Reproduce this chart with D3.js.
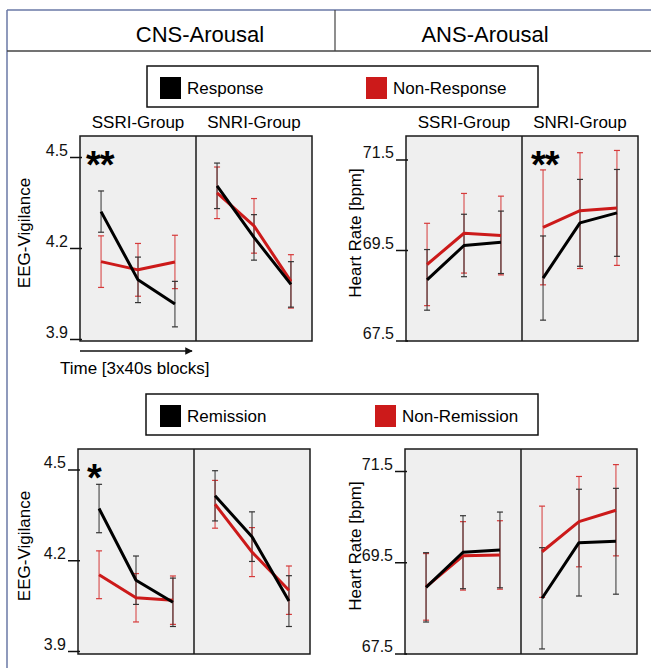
<!DOCTYPE html>
<html>
<head>
<meta charset="utf-8">
<script src="https://cdn.jsdelivr.net/npm/d3@7"></script>
<style>
  body { margin: 0; background: #fff; }
  svg { display: block; font-family: "Liberation Sans", Arial, sans-serif; }
</style>
</head>
<body>
<div id="chart"></div>
<script>
// values, SSRI blocks 1-3 then SNRI blocks 1-3
const groups = ["SSRI-Group", "SNRI-Group"];
const blocks = [1, 2, 3];
const eegTicks = [3.9, 4.2, 4.5];
const hrTicks = [67.5, 69.5, 71.5];

// top row: response vs non-response
const eegResponse = [4.32, 4.095, 4.015, 4.405, 4.235, 4.08];
const eegResponseErr = [0.068, 0.075, 0.075, 0.075, 0.075, 0.075];
const eegNonResponse = [4.155, 4.128, 4.154, 4.382, 4.273, 4.09];
const eegNonResponseErr = [0.085, 0.087, 0.088, 0.085, 0.09, 0.088];
const hrResponse = [68.84, 69.60, 69.67, 68.88, 70.10, 70.32];
const hrResponseErr = [0.67, 0.69, 0.69, 0.93, 0.96, 0.96];
const hrNonResponse = [69.18, 69.87, 69.82, 70.0, 70.37, 70.43];
const hrNonResponseErr = [0.91, 0.88, 0.87, 1.27, 1.28, 1.27];

// bottom row: remission vs non-remission
const eegRemission = [4.371, 4.134, 4.061, 4.413, 4.278, 4.065];
const eegRemissionErr = [0.08, 0.08, 0.08, 0.083, 0.082, 0.084];
const eegNonRemission = [4.152, 4.076, 4.068, 4.385, 4.227, 4.101];
const eegNonRemissionErr = [0.079, 0.08, 0.08, 0.079, 0.081, 0.08];
const hrRemission = [68.95, 69.72, 69.77, 68.71, 69.93, 69.96];
const hrRemissionErr = [0.76, 0.8, 0.83, 1.11, 1.17, 1.16];
const hrNonRemission = [68.96, 69.64, 69.66, 69.73, 70.39, 70.64];
const hrNonRemissionErr = [0.73, 0.75, 0.75, 1.0, 0.99, 1.0];

const width = 651, height = 668;
const black = "#000", red = "#cc1a1a";

const svg = d3.select("#chart").append("svg")
  .attr("width", width)
  .attr("height", height);

// outer frame + header
const frame = "#6a78a6";
svg.append("line").attr("x1", 7).attr("x2", 7).attr("y1", 10).attr("y2", height)
  .attr("stroke", frame).attr("stroke-width", 1.5);
svg.append("line").attr("x1", 7).attr("x2", width).attr("y1", 10).attr("y2", 10)
  .attr("stroke", frame).attr("stroke-width", 1.5);
svg.append("line").attr("x1", 7).attr("x2", width).attr("y1", 51).attr("y2", 51)
  .attr("stroke", "#444").attr("stroke-width", 1.5);
svg.append("line").attr("x1", 335).attr("x2", 335).attr("y1", 10).attr("y2", 51)
  .attr("stroke", "#444").attr("stroke-width", 1.2);
svg.append("text").attr("x", 200).attr("y", 42).attr("text-anchor", "middle")
  .attr("font-size", 22).text("CNS-Arousal");
svg.append("text").attr("x", 485).attr("y", 42).attr("text-anchor", "middle")
  .attr("font-size", 22).text("ANS-Arousal");

function legend(y, x0, labels, redX) {
  const g = svg.append("g");
  g.append("rect").attr("x", x0).attr("y", y).attr("width", 538 - x0).attr("height", 41)
    .attr("fill", "#fff").attr("stroke", "#111").attr("stroke-width", 1.5);
  g.append("rect").attr("x", 160).attr("y", y + 11).attr("width", 21).attr("height", 22).attr("fill", black);
  g.append("text").attr("x", 187).attr("y", y + 28).attr("font-size", 17).text(labels[0]);
  g.append("rect").attr("x", redX).attr("y", y + 11).attr("width", 21).attr("height", 22).attr("fill", red);
  g.append("text").attr("x", redX + 27).attr("y", y + 28).attr("font-size", 17).text(labels[1]);
}
legend(66, 147, ["Response", "Non-Response"], 366);
legend(394, 146, ["Remission", "Non-Remission"], 375);

function panel(opt) {
  const { x0, top, ticks, domain, yr, mean1, err1, mean2, err2, title, titleX, showGroups, star, starX } = opt;
  const w = 232, h = 205;
  const g = svg.append("g");

  const gx = d3.scaleBand().domain(groups).range([x0, x0 + w]);
  const tx = d3.scalePoint().domain(blocks).range([0, gx.bandwidth()]).padding(0.57);
  const y = d3.scaleLinear().domain(domain).range([top + yr[0], top + yr[1]]);
  const px = i => gx(groups[Math.floor(i / 3)]) + tx(blocks[i % 3]);

  g.append("rect").attr("x", x0).attr("y", top).attr("width", w).attr("height", h)
    .attr("fill", "#efefef").attr("stroke", "#1a1a1a").attr("stroke-width", 1.5);
  g.append("line").attr("x1", gx(groups[1])).attr("x2", gx(groups[1]))
    .attr("y1", top).attr("y2", top + h).attr("stroke", "#1a1a1a").attr("stroke-width", 1.5);

  const axis = g.append("g").attr("transform", `translate(${x0 + 2},0)`)
    .call(d3.axisLeft(y).tickValues(ticks).tickSize(12).tickPadding(2).tickFormat(d3.format(".1f")));
  axis.select(".domain").remove();
  axis.selectAll(".tick line").attr("stroke", "#111").attr("stroke-width", 1.5);
  axis.selectAll(".tick text").attr("dy", "-0.1em").attr("font-size", 16)
    .attr("font-family", "Liberation Sans, Arial, sans-serif").attr("fill", "#111");

  g.append("text")
    .attr("transform", `translate(${titleX},${top + 97}) rotate(-90)`)
    .attr("text-anchor", "middle").attr("font-size", 17).text(title);

  if (showGroups) {
    groups.forEach(gr => {
      g.append("text").attr("x", gx(gr) + gx.bandwidth() / 2).attr("y", top - 8)
        .attr("text-anchor", "middle").attr("font-size", 17).text(gr);
    });
  }

  const series = [
    { m: mean2, e: err2, c: red, ec: "#d63a3a" },
    { m: mean1, e: err1, c: black, ec: "#333" }
  ];
  series.forEach(s => {
    s.m.forEach((v, i) => {
      const x = px(i), y1 = y(v - s.e[i]), y2 = y(v + s.e[i]);
      g.append("line").attr("x1", x).attr("x2", x).attr("y1", y1).attr("y2", y2)
        .attr("stroke", s.ec).attr("stroke-width", 1);
      [y1, y2].forEach(yy => g.append("line").attr("x1", x - 3).attr("x2", x + 3)
        .attr("y1", yy).attr("y2", yy).attr("stroke", s.ec).attr("stroke-width", 1.2));
    });
  });
  const line = d3.line().x(d => px(d.i)).y(d => y(d.v));
  series.forEach(s => {
    [0, 3].forEach(start => {
      const pts = s.m.slice(start, start + 3).map((v, k) => ({ v, i: start + k }));
      g.append("path").datum(pts).attr("d", line).attr("fill", "none")
        .attr("stroke", s.c).attr("stroke-width", 3).attr("stroke-linejoin", "round");
    });
  });

  if (star) {
    g.append("text").attr("x", starX).attr("y", top + 42).attr("font-size", 38)
      .attr("font-weight", "bold").attr("letter-spacing", -1).text(star);
  }
}

panel({ x0: 80, top: 136, ticks: eegTicks, domain: [3.9, 4.5], yr: [203, 21],
  mean1: eegResponse, err1: eegResponseErr, mean2: eegNonResponse, err2: eegNonResponseErr,
  title: "EEG-Vigilance", titleX: 30, showGroups: true, star: "**", starX: 86 });
panel({ x0: 406, top: 136, ticks: hrTicks, domain: [67.5, 71.5], yr: [204.5, 23.5],
  mean1: hrResponse, err1: hrResponseErr, mean2: hrNonResponse, err2: hrNonResponseErr,
  title: "Heart Rate [bpm]", titleX: 361, showGroups: true, star: "**", starX: 531 });
panel({ x0: 78, top: 449, ticks: eegTicks, domain: [3.9, 4.5], yr: [202, 20.5],
  mean1: eegRemission, err1: eegRemissionErr, mean2: eegNonRemission, err2: eegNonRemissionErr,
  title: "EEG-Vigilance", titleX: 30, showGroups: false, star: "*", starX: 87 });
panel({ x0: 405, top: 449, ticks: hrTicks, domain: [67.5, 71.5], yr: [204.5, 22],
  mean1: hrRemission, err1: hrRemissionErr, mean2: hrNonRemission, err2: hrNonRemissionErr,
  title: "Heart Rate [bpm]", titleX: 361, showGroups: false, star: null });

// time arrow under the top-left panel
svg.append("defs").append("marker").attr("id", "arr")
  .attr("viewBox", "0 0 10 10").attr("refX", 9).attr("refY", 5)
  .attr("markerWidth", 5).attr("markerHeight", 5).attr("orient", "auto")
  .append("path").attr("d", "M0,0L10,5L0,10Z").attr("fill", "#111");
svg.append("line").attr("x1", 80).attr("x2", 192).attr("y1", 351).attr("y2", 351)
  .attr("stroke", "#111").attr("stroke-width", 1.5).attr("marker-end", "url(#arr)");
svg.append("text").attr("x", 60).attr("y", 374).attr("font-size", 17).text("Time [3x40s blocks]");
</script>
</body>
</html>
